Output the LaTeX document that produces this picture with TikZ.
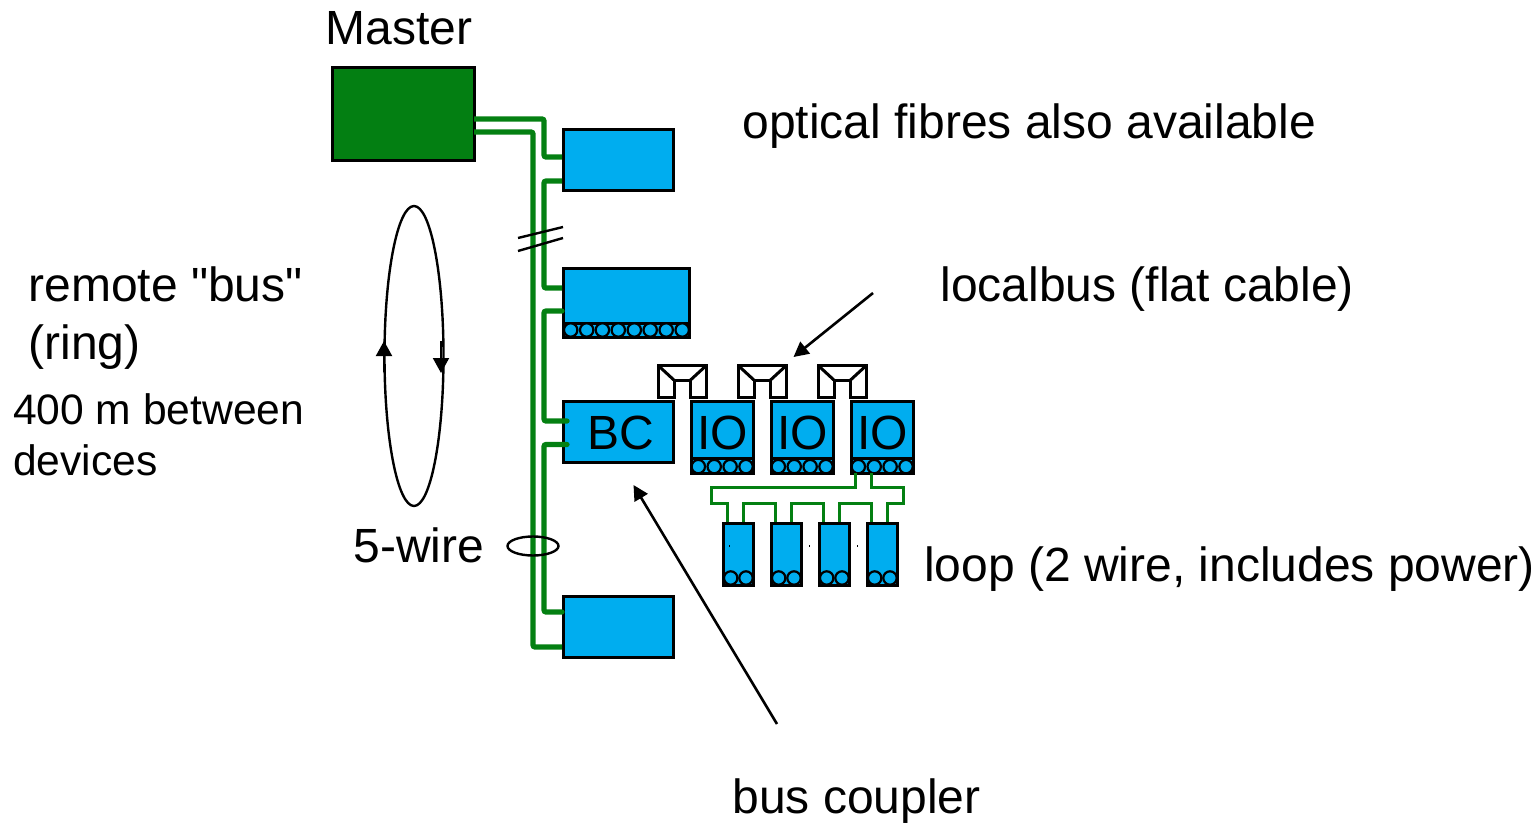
\documentclass[tikz,border=0pt]{standalone}
\usepackage{fontspec}
\setmainfont{Liberation Sans}
\newfontfamily\plainq{Liberation Sans}
\usetikzlibrary{arrows.meta}
\definecolor{devblue}{HTML}{00ADEF}
\definecolor{wiregreen}{HTML}{048012}
\definecolor{mastergreen}{HTML}{037F12}
\tikzset{
  x=1pt,y=-1pt,
  device/.style={draw=black,line width=3pt,fill=devblue,inner sep=0pt,outer sep=0pt,anchor=north west},
  bigwire/.style={draw=wiregreen,line width=5.2pt,rounded corners=2pt},
  endwire/.style={bigwire,line cap=round},
  thinwire/.style={draw=wiregreen,line width=3pt},
  strip/.style={draw=black,line width=3pt,fill=devblue,inner sep=0pt,outer sep=0pt,anchor=north west},
  pin/.style={circle,draw=black,line width=2.2pt,fill=devblue,inner sep=0pt,outer sep=0pt,minimum size=13.4pt},
  pointer/.style={draw=black,line width=2.6pt,-{Triangle[length=15pt,width=15pt]}},
  ringarrow/.style={draw=black,line width=2pt,-{Triangle[length=15pt,width=16pt]}},
  label/.style={inner sep=0pt,outer sep=0pt,anchor=base west,font=\fontsize{48}{52}\selectfont},
  smalllabel/.style={label,font=\fontsize{42.6}{48}\selectfont},
  flat/.style={draw=black,line width=3pt,fill=white,line join=miter},
  thinmark/.style={draw=black,line width=2.4pt}
}
\begin{document}
\begin{tikzpicture}
\useasboundingbox (0,0) rectangle (1536,824);
\node[device,fill=mastergreen,minimum width=142pt,minimum height=92pt] (master) at (332,68) {};
\node[device,minimum width=110pt,minimum height=60.5pt] (d1) at (563,129.5) {};
\node[device,minimum width=126pt,minimum height=69pt] (d2) at (563,268) {};
\node[device,minimum width=110pt,minimum height=61pt] (bc) at (563,401) {};
\node[device,minimum width=110pt,minimum height=61pt] (d4) at (563,596) {};
% device 2 pin strip
\node[strip,minimum width=126pt,minimum height=14pt] (d2strip) at (563,323) {};
\foreach \i/\px in {1/570.7,2/586.7,3/602.4,4/618.3,5/634.3,6/650.2,7/666.2,8/682.2}
  \node[pin] (d2p\i) at (\px,330) {};
% ports
\coordinate (mOutA) at (474,119);
\coordinate (mOutB) at (474,132);
\coordinate (d1In) at (562,157);
\coordinate (d1Out) at (562,181);
\coordinate (d2In) at (562,288);
\coordinate (d2Out) at (562,311);
\coordinate (bcIn) at (567,421);
\coordinate (bcOut) at (567,444.5);
\coordinate (d4In) at (562,612);
\coordinate (d4Ret) at (562,647);
% remote bus
\draw[bigwire] (mOutA) -| (544,157) -- (d1In);
\draw[bigwire] (mOutB) -| (533,647) -- (d4Ret);
\draw[bigwire] (d1Out) -| (544,288) -- (d2In);
\draw[endwire] (d2Out) -| (544,421) -- (bcIn);
\draw[endwire] (bcOut) -| (544,612) -- (d4In);
\node[inner sep=0pt,font=\fontsize{48}{52}\selectfont] (bctext) at (620.5,433) {BC};
% break marks
\coordinate (brA1) at (518,238);
\coordinate (brA2) at (563,227);
\coordinate (brB1) at (518,251);
\coordinate (brB2) at (563,238);
\draw[thinmark] (brA1) -- (brA2);
\draw[thinmark] (brB1) -- (brB2);
% 5-wire bundle
\coordinate (bundlepos) at (533,546);
\draw[thinmark] (bundlepos) ellipse [x radius=25.5,y radius=9.5];
% ring
\coordinate (ringc) at (414,356);
\draw[thinmark] (ringc) ellipse [x radius=29.5,y radius=150];
\coordinate (upS) at (384,372);
\coordinate (upE) at (384,341);
\coordinate (dnS) at (441,341);
\coordinate (dnE) at (441,373);
\draw[ringarrow] (upS) -- (upE);
\draw[ringarrow] (dnS) -- (dnE);
% IO modules
\foreach \n/\ox in {1/691,2/771,3/851}{
  \node[device,minimum width=62.5pt,minimum height=72.5pt] (io\n) at (\ox,401) {};
  \node[strip,minimum width=62.5pt,minimum height=15pt] (io\n s) at (\ox,458.5) {};
  \foreach \k/\dx in {1/7.3,2/23.2,3/39.1,4/55}
    \node[pin] (io\n p\k) at (\ox+\dx,466.6) {};
  \node[inner sep=0pt,font=\fontsize{48}{52}\selectfont] (io\n t) at (\ox+31.5,433) {IO};
}
% flat cable connectors
\foreach \n/\ox in {1/658,2/738,3/818}{
  \draw[flat] (\ox,365.3) -- ++(48.5,0) -- ++(0,32) -- ++(-16.3,0) -- ++(0,-17) -- ++(-16,0) -- ++(0,17) -- ++(-16.2,0) -- cycle;
  \draw[flat] (\ox,365.3) -- ++(16.2,15);
  \draw[flat] (\ox+48.5,365.3) -- ++(-16.3,15);
}
% loop modules
\foreach \n/\ox in {1/723,2/771,3/819,4/867}{
  \node[device,minimum width=30.7pt,minimum height=62.5pt] (lp\n) at (\ox,523.3) {};
  \node[pin] (lp\n a) at (\ox+7.7,578) {};
  \node[pin] (lp\n b) at (\ox+23,578) {};
  \draw[black,line width=3pt] (\ox,585.3) -- ++(30.7,0);
}
% loop wiring
\coordinate (o1) at (855.7,473);
\coordinate (o2) at (871.2,473);
\coordinate (e1) at (727.7,522);
\coordinate (e8) at (887.7,522);
\coordinate (e2) at (743.7,522);
\coordinate (e3) at (775.7,522);
\coordinate (e4) at (791.7,522);
\coordinate (e5) at (823.7,522);
\coordinate (e6) at (839.7,522);
\coordinate (e7) at (871.7,522);
\draw[thinwire] (o1) -- (855.7,487) -- (711.2,487) -- (711.2,503) -- (727.7,503) -- (e1);
\draw[thinwire] (o2) -- (871.2,487) -- (903.7,487) -- (903.7,503) -- (887.7,503) -- (e8);
\draw[thinwire] (e2) -- (743.7,503) -- (775.7,503) -- (e3);
\draw[thinwire] (e4) -- (791.7,503) -- (823.7,503) -- (e5);
\draw[thinwire] (e6) -- (839.7,503) -- (871.7,503) -- (e7);
% tiny specks
\foreach \n/\sx in {1/729.5,2/809.5,3/857.5}
  \fill[black] (\sx-0.4,544.5) rectangle (\sx+0.4,547);
% pointers
\coordinate (lbFrom) at (873,293);
\coordinate (lbTo) at (793.5,357);
\coordinate (bcFrom) at (777,724);
\coordinate (bcTo) at (633.5,485);
\draw[pointer] (lbFrom) -- (lbTo);
\draw[pointer] (bcFrom) -- (bcTo);
% labels
\node[label] (tMaster) at (325.5,45) {Master};
\node[label] (tFibre) at (742.5,138.5) {optical fibres also available};
\node[label] (tRemote) at (28.5,301) {\plainq remote "bus"};
\node[label] (tRing) at (28.5,359) {(ring)};
\node[smalllabel] (t400) at (13,424) {400 m between};
\node[smalllabel] (tDev) at (13,475) {devices};
\node[label] (tWire) at (353.5,562) {5-wire};
\node[label] (tLocal) at (940.5,301) {localbus (flat cable)};
\node[label] (tLoop) at (924,581) {loop (2 wire, includes power)};
\node[label] (tCoupler) at (732.5,813) {bus coupler};
\end{tikzpicture}
\end{document}
